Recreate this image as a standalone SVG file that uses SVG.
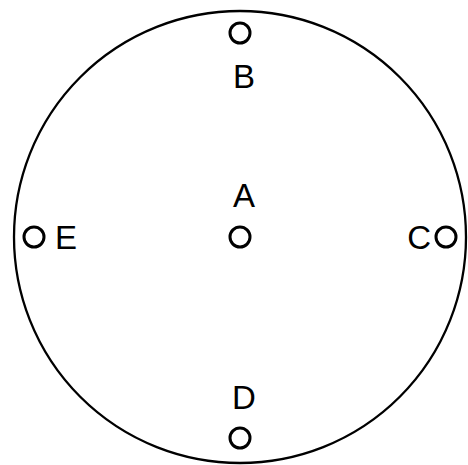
<svg xmlns="http://www.w3.org/2000/svg" width="468" height="465" viewBox="0 0 468 465">
<style>
.ring{fill:none;stroke:#000;stroke-width:2.3}
.pt{fill:#fff;stroke:#000;stroke-width:3}
.lbl{font-family:"Liberation Sans",Arial,sans-serif;font-size:33px;fill:#000}
</style>
<rect width="468" height="465" fill="#fff"/>
<g id="connectors"></g>
<g id="boundary"><circle class="ring" cx="240" cy="237" r="226"/></g>
<g id="A"><circle class="pt" cx="240" cy="237" r="10"/><text class="lbl" x="244" y="207" text-anchor="middle">A</text></g>
<g id="B"><circle class="pt" cx="240" cy="33" r="10"/><text class="lbl" x="244" y="88" text-anchor="middle">B</text></g>
<g id="C"><circle class="pt" cx="446" cy="237" r="10"/><text class="lbl" x="431" y="249" text-anchor="end">C</text></g>
<g id="D"><circle class="pt" cx="240" cy="438" r="10"/><text class="lbl" x="244" y="409" text-anchor="middle">D</text></g>
<g id="E"><circle class="pt" cx="34" cy="237" r="10"/><text class="lbl" x="55" y="249" text-anchor="start">E</text></g>
</svg>
